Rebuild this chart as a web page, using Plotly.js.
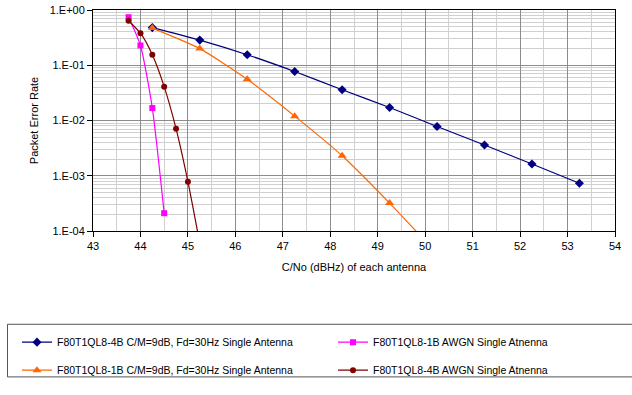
<!DOCTYPE html>
<html>
<head>
<meta charset="utf-8">
<script src="https://cdn.plot.ly/plotly-3.0.1.min.js"></script>
<style>html,body{margin:0;padding:0;background:#fff;}#chart{width:632px;height:395px;}</style>
</head>
<body>
<div id="chart"></div>
<script>
// ---- Data ----
const names = [
  "F80T1QL8-4B C/M=9dB, Fd=30Hz Single Antenna",
  "F80T1QL8-1B AWGN Single Atnenna",
  "F80T1QL8-1B C/M=9dB, Fd=30Hz Single Antenna",
  "F80T1QL8-4B AWGN Single Atnenna"
];
const x4bFading = [44.25, 45.25, 46.25, 47.25, 48.25, 49.25, 50.25, 51.25, 52.25, 53.25];
const y4bFading = [0.48, 0.285, 0.155, 0.077, 0.036, 0.0172, 0.0078, 0.0036, 0.00163, 0.00073];
const x1bFading = [44.25, 45.25, 46.25, 47.25, 48.25, 49.25, 50.25];
const y1bFading = [0.47, 0.20, 0.0556, 0.012, 0.0023, 0.00032, 0.000039];
const x1bAwgn = [43.75, 44.0, 44.25, 44.5];
const y1bAwgn = [0.74, 0.228, 0.0168, 0.00021];
const x4bAwgn = [43.75, 44.0, 44.25, 44.5, 44.75, 45.0, 45.25];
const y4bAwgn = [0.64, 0.38, 0.155, 0.041, 0.0071, 0.00078, 0.00006];

const xTicks = [43, 44, 45, 46, 47, 48, 49, 50, 51, 52, 53, 54];
const yTickVals = [1e-4, 1e-3, 1e-2, 1e-1, 1];
const yTickText = ["1.E-04", "1.E-03", "1.E-02", "1.E-01", "1.E+00"];

// ---- Layout geometry ----
const W = 632, H = 395;
const M = {l: 93, r: 17, t: 10, b: 154};
const pw = W - M.l - M.r, ph = H - M.t - M.b;
const px2x = p => (p - M.l) / pw;
const py2y = p => (H - M.b - p) / ph;

function tr(x, y, name, color, symbol, size, legend, group) {
  return {
    x: x, y: y, name: name, type: 'scatter', mode: 'lines+markers',
    line: {color: color, width: 1.2, shape: 'spline', smoothing: 0.6},
    marker: {color: color, symbol: symbol, size: size},
    legend: legend, legendgroup: group, cliponaxis: true
  };
}

const data = [
  tr(x4bFading, y4bFading, names[0], '#000080', 'diamond', 7, 'legend', 'a'),
  tr(x1bFading, y1bFading, names[2], '#FF6600', 'triangle-up', 8, 'legend', 'b'),
  tr(x1bAwgn, y1bAwgn, names[1], '#FF00FF', 'square', 6, 'legend2', 'c'),
  tr(x4bAwgn, y4bAwgn, names[3], '#800000', 'circle', 6, 'legend2', 'd')
];

const font = {family: 'Liberation Sans, Arial, sans-serif', size: 11, color: '#000'};
const legendCommon = {
  orientation: 'v', bgcolor: 'rgba(0,0,0,0)', borderwidth: 0,
  font: {family: 'Liberation Sans, Arial, sans-serif', size: 10.5, color: '#000'},
  tracegroupgap: 9, itemwidth: 30, yanchor: 'top', xanchor: 'left'
};

const layout = {
  width: W, height: H,
  margin: M,
  paper_bgcolor: '#fff', plot_bgcolor: '#fff',
  font: font,
  showlegend: true,
  legend: Object.assign({}, legendCommon, {x: px2x(17), y: py2y(342)}),
  legend2: Object.assign({}, legendCommon, {x: px2x(333), y: py2y(342)}),
  xaxis: {
    range: [43, 54], tickvals: xTicks, ticktext: xTicks.map(String),
    showgrid: true, gridcolor: '#8c8c8c', gridwidth: 1,
    minor: {dtick: 0.5, showgrid: true, gridcolor: '#d0d0d0', gridwidth: 1, ticks: ''},
    ticks: 'outside', ticklen: 5, tickcolor: '#000',
    showline: true, linecolor: '#000', linewidth: 1, mirror: true,
    zeroline: false, tickfont: font,
    title: {text: 'C/No (dBHz) of each antenna', font: font, standoff: 12}
  },
  yaxis: {
    type: 'log', range: [-4, 0], tickvals: yTickVals, ticktext: yTickText,
    showgrid: true, gridcolor: '#8c8c8c', gridwidth: 1,
    minor: {dtick: 'D1', showgrid: true, gridcolor: '#d0d0d0', gridwidth: 1, ticks: ''},
    ticks: 'outside', ticklen: 5, tickcolor: '#000',
    showline: true, linecolor: '#000', linewidth: 1, mirror: true,
    zeroline: false, tickfont: font,
    title: {text: 'Packet Error Rate', font: font, standoff: 8}
  },
  shapes: [{
    type: 'rect', xref: 'paper', yref: 'paper',
    x0: px2x(7.5), x1: px2x(660), y0: py2y(338.5), y1: py2y(393.5),
    line: {color: '#555', width: 1}, fillcolor: 'rgba(0,0,0,0)', layer: 'below'
  }]
};

Plotly.newPlot('chart', data, layout, {staticPlot: true, displayModeBar: false});
</script>
</body>
</html>
